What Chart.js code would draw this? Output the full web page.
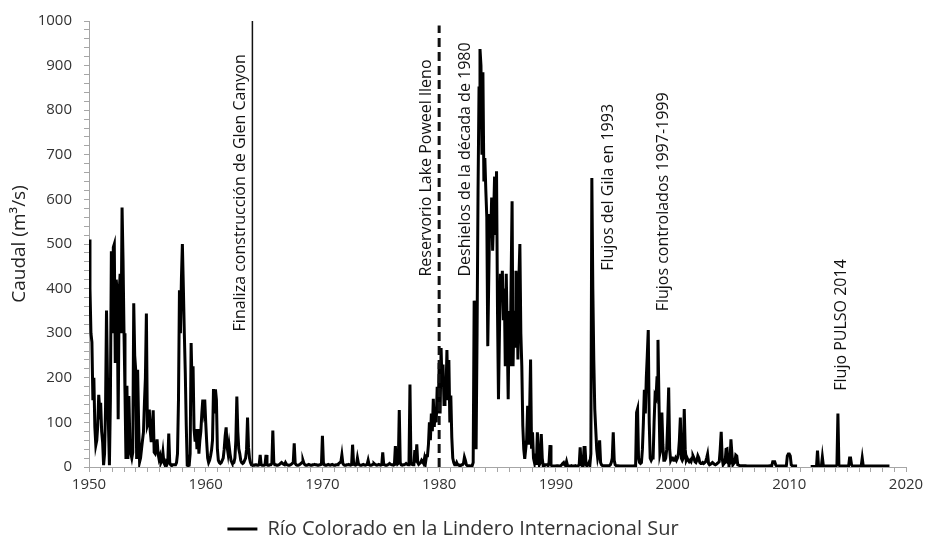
<!DOCTYPE html>
<html lang="es">
<head>
<meta charset="utf-8">
<title>Caudal Río Colorado</title>
<script src="https://cdn.jsdelivr.net/npm/chart.js@4.4.1/dist/chart.umd.min.js"></script>
<style>
    body { margin: 0; background: #fff; }
    #contenedor { width: 929px; height: 544px; position: relative; }
</style>
</head>
<body>
<div id="contenedor"><canvas id="caudalChart"></canvas></div>
<script>
// ====== DATOS: caudal mensual (m3/s), una fila por año ======
const decadas = [1950, 1960, 1970, 1980, 1990, 2000, 2010];

const q1950 = [
    510, 400, 300, 280, 150, 200, 90, 49, 60, 93, 162, 130,
    144, 80, 56, 4, 30, 130, 351, 200, 93, 4, 150, 484,
    300, 493, 500, 233, 420, 389, 107, 389, 433, 300, 582, 463,
    300, 167, 18, 182, 18, 159, 60, 30, 20, 33, 367, 250,
    218, 18, 218, 100, 11, 20, 40, 60, 78, 144, 200, 344,
    93, 100, 129, 80, 56, 80, 127, 33, 30, 40, 62, 30,
    18, 25, 10, 15, 33, 10, 5, 11, 5, 10, 75, 10,
    5, 3, 5, 5, 5, 5, 10, 30, 150, 396, 300, 420,
    500, 404, 300, 211, 93, 4, 3, 4, 30, 278, 180, 226,
    85, 60, 85, 40, 85, 30, 60, 80, 120, 151, 130, 151
];
const q1960 = [
    100, 56, 20, 10, 15, 25, 38, 60, 175, 120, 174, 151,
    40, 15, 10, 8, 10, 15, 20, 40, 70, 89, 45, 30,
    49, 30, 15, 10, 8, 10, 20, 60, 158, 80, 41, 30,
    15, 10, 8, 10, 15, 20, 40, 111, 44, 20, 10, 5,
    5, 4, 4, 5, 5, 4, 4, 5, 27, 5, 4, 4,
    4, 5, 27, 5, 4, 4, 5, 5, 8, 82, 10, 5,
    5, 4, 4, 5, 6, 8, 10, 8, 6, 5, 10, 6,
    5, 4, 4, 5, 6, 8, 10, 53, 8, 5, 4, 4,
    5, 6, 8, 10, 15, 8, 5, 4, 4, 5, 6, 5,
    4, 4, 5, 5, 6, 5, 5, 4, 4, 5, 5, 6
];
const q1970 = [
    70, 10, 5, 4, 4, 5, 6, 5, 4, 5, 6, 5,
    4, 4, 5, 5, 6, 8, 10, 12, 27, 8, 5, 4,
    4, 5, 5, 6, 5, 4, 5, 50, 10, 5, 4, 5,
    20, 8, 5, 4, 4, 5, 6, 5, 4, 5, 6, 15,
    5, 4, 4, 5, 6, 8, 6, 5, 4, 5, 6, 5,
    4, 5, 33, 6, 5, 4, 4, 5, 6, 8, 6, 5,
    5, 4, 5, 47, 10, 6, 8, 128, 10, 5, 4, 5,
    5, 6, 8, 6, 5, 8, 185, 10, 6, 5, 5, 38,
    10, 51, 10, 6, 8, 10, 15, 12, 8, 20, 10, 25,
    25, 50, 100, 60, 120, 80, 153, 90, 130, 100, 180, 120
];
const q1980 = [
    233, 120, 267, 180, 230, 140, 200, 160, 262, 150, 240, 100,
    160, 67, 20, 10, 5, 5, 10, 5, 5, 3, 3, 5,
    5, 8, 22, 15, 5, 3, 3, 3, 2, 2, 3, 10,
    373, 360, 40, 300, 620, 850, 937, 900, 700, 885, 640, 693,
    620, 560, 271, 420, 567, 520, 604, 485, 560, 651, 520, 663,
    350, 152, 300, 433, 380, 440, 329, 400, 226, 433, 300, 152,
    350, 226, 420, 596, 226, 350, 271, 440, 389, 241, 420, 500,
    300, 226, 93, 40, 18, 40, 62, 137, 50, 120, 241, 41,
    78, 20, 10, 30, 5, 78, 30, 5, 10, 74, 20, 2,
    2, 5, 5, 5, 3, 10, 49, 5, 2, 2, 2, 2
];
const q1990 = [
    2, 3, 3, 2, 2, 3, 5, 8, 10, 5, 3, 12,
    3, 2, 2, 2, 3, 2, 2, 2, 3, 2, 2, 3,
    5, 44, 5, 3, 3, 44, 44, 5, 3, 5, 10, 5,
    30, 648, 400, 240, 130, 85, 40, 20, 30, 60, 10, 5,
    3, 3, 3, 3, 3, 3, 3, 3, 5, 10, 20, 78,
    15, 5, 3, 3, 3, 2, 2, 2, 2, 2, 2, 2,
    2, 2, 2, 2, 2, 2, 2, 2, 2, 3, 3, 122,
    130, 20, 10, 8, 10, 40, 100, 173, 120, 200, 250, 307,
    100, 20, 15, 20, 20, 100, 160, 155, 200, 285, 150, 30,
    40, 122, 50, 15, 15, 20, 40, 100, 178, 40, 15, 20
];
const q2000 = [
    20, 15, 15, 20, 15, 20, 30, 60, 111, 20, 15, 20,
    130, 40, 15, 20, 15, 12, 15, 12, 20, 25, 20, 12,
    10, 15, 25, 20, 10, 8, 8, 10, 8, 10, 12, 20,
    29, 8, 5, 6, 8, 10, 8, 6, 5, 6, 8, 10,
    12, 40, 79, 20, 5, 8, 10, 40, 41, 10, 6, 8,
    62, 30, 5, 8, 10, 27, 25, 5, 4, 3, 3, 3,
    3, 3, 3, 3, 2, 2, 2, 2, 2, 2, 2, 2,
    2, 2, 2, 2, 2, 2, 2, 2, 2, 2, 2, 2,
    2, 2, 2, 2, 3, 3, 3, 12, 12, 12, 5, 2,
    2, 2, 2, 2, 2, 2, 2, 2, 2, 3, 25, 29
];
const q2010 = [
    29, 25, 5, 3, 2, 2, 2, 2, 2, null, null, null,
    null, null, null, null, null, null, null, null, null, null, 1, 1,
    1, 1, 1, 1, 1, 37, 5, 2, 2, 2, 22, 3,
    2, 2, 2, 2, 2, 2, 2, 2, 2, 2, 2, 2,
    2, 5, 120, 5, 2, 2, 2, 2, 2, 2, 2, 2,
    2, 2, 20, 20, 5, 2, 2, 2, 2, 2, 2, 2,
    2, 2, 3, 20, 3, 2, 2, 2, 2, 2, 2, 2,
    2, 2, 2, 2, 2, 2, 2, 2, 2, 2, 2, 2,
    2, 2, 2, 2, 2, 2, 2, 2
];

// eventos marcados con líneas verticales
const lineasAnio = [1964, 1980];
const lineasTope = [1000, 990];

// textos verticales (año y caudal donde empieza el texto)
const notasTexto = [
    'Finaliza construcción de Glen Canyon',
    'Reservorio Lake Poweel lleno',
    'Deshielos de la década de 1980',
    'Flujos del Gila en 1993',
    'Flujos controlados 1997-1999',
    'Flujo PULSO 2014'
];
const notasAnio = [1962.95, 1978.9, 1982.25, 1994.5, 1999.2, 2014.45];
const notasCaudal = [304, 427, 427, 440, 349, 171];

// ====== SERIE {x, y} ======
const series = [q1950, q1960, q1970, q1980, q1990, q2000, q2010];
const puntos = [];
decadas.forEach((inicio, d) => {
    series[d].forEach((v, i) => {
        puntos.push({ x: inicio + i / 12, y: v });
    });
});

Chart.defaults.font.family = "'Open Sans', sans-serif";

// ====== ANOTACIONES ======
const anotaciones = {
    id: 'anotaciones',
    afterDatasetsDraw(chart) {
        const { ctx, scales: { x, y } } = chart;
        ctx.save();
        ctx.strokeStyle = '#111';
        lineasAnio.forEach((anio, i) => {
            const px = x.getPixelForValue(anio);
            ctx.beginPath();
            if (i === 1) {
                ctx.lineWidth = 3;
                ctx.setLineDash([9, 5]);
            } else {
                ctx.lineWidth = 1.5;
                ctx.setLineDash([]);
            }
            ctx.moveTo(px, y.getPixelForValue(0));
            ctx.lineTo(px, y.getPixelForValue(lineasTope[i]));
            ctx.stroke();
        });
        ctx.setLineDash([]);

        ctx.fillStyle = '#111';
        ctx.font = "16px 'Open Sans', sans-serif";
        ctx.textAlign = 'left';
        ctx.textBaseline = 'middle';
        notasTexto.forEach((texto, i) => {
            ctx.save();
            ctx.translate(x.getPixelForValue(notasAnio[i]), y.getPixelForValue(notasCaudal[i]));
            ctx.rotate(-Math.PI / 2);
            ctx.fillText(texto, 0, 0);
            ctx.restore();
        });
        ctx.restore();
    }
};

// ====== GRÁFICO ======
const ctx = document.getElementById('caudalChart');

new Chart(ctx, {
    type: 'line',
    data: {
        datasets: [{
            label: 'Río Colorado en la Lindero Internacional Sur',
            data: puntos,
            borderColor: '#000',
            backgroundColor: '#000',
            borderWidth: 3,
            pointRadius: 0,
            tension: 0,
            spanGaps: false
        }]
    },
    options: {
        responsive: true,
        maintainAspectRatio: false,
        animation: false,
        layout: {
            padding: { left: 0, right: 23, top: 15, bottom: -5 }
        },
        plugins: {
            legend: {
                position: 'bottom',
                labels: {
                    usePointStyle: true,
                    pointStyle: 'line',
                    pointStyleWidth: 30,
                    color: '#333',
                    padding: 10,
                    font: { size: 20 }
                }
            },
            tooltip: { enabled: false }
        },
        scales: {
            x: {
                type: 'linear',
                min: 1950,
                max: 2020,
                afterFit: (s) => { s.height = 42; },
                border: { color: '#a6a6a6', width: 1 },
                grid: {
                    drawOnChartArea: false,
                    drawTicks: true,
                    tickLength: 5,
                    color: '#a6a6a6'
                },
                ticks: {
                    stepSize: 1,
                    autoSkip: false,
                    maxRotation: 0,
                    padding: 4,
                    color: '#333',
                    font: { size: 15 },
                    callback: function (value) {
                        return value % 10 === 0 ? String(value) : '';
                    }
                }
            },
            y: {
                min: 0,
                max: 1000,
                afterFit: (s) => { s.width = 89; },
                border: { color: '#a6a6a6', width: 1 },
                grid: {
                    drawOnChartArea: false,
                    drawTicks: true,
                    tickLength: 5,
                    color: '#a6a6a6'
                },
                ticks: {
                    stepSize: 20,
                    autoSkip: false,
                    padding: 12,
                    color: '#333',
                    font: { size: 15 },
                    callback: function (value) {
                        return value % 100 === 0 ? value : '';
                    }
                },
                title: {
                    display: true,
                    text: 'Caudal (m³/s)',
                    color: '#222',
                    padding: { top: 8, bottom: 0 },
                    font: { size: 19 }
                }
            }
        }
    },
    plugins: [anotaciones]
});
</script>
</body>
</html>
